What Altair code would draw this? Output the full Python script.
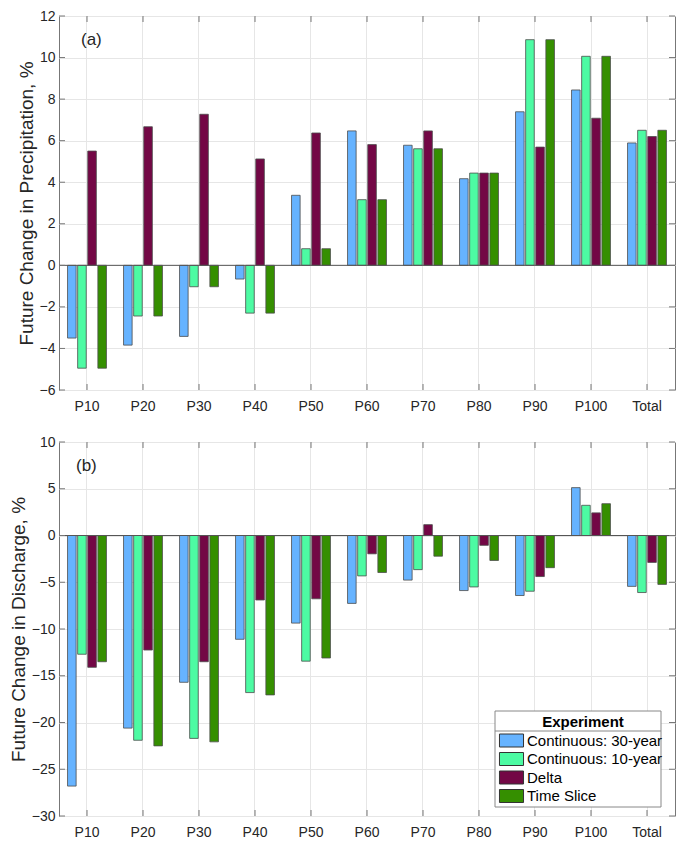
import altair as alt
import pandas as pd

categories = ["P10", "P20", "P30", "P40", "P50", "P60", "P70", "P80", "P90", "P100", "Total"]
experiments = ["Continuous: 30-year", "Continuous: 10-year", "Delta", "Time Slice"]
colors = ["#66B3FF", "#4DFBA3", "#730745", "#358F00"]

precip_cont30 = [-3.50, -3.84, -3.42, -0.66, 3.37, 6.47, 5.78, 4.17, 7.39, 8.44, 5.89]
precip_cont10 = [-4.95, -2.44, -1.03, -2.30, 0.80, 3.16, 5.61, 4.44, 10.86, 10.06, 6.50]
precip_delta = [5.50, 6.67, 7.27, 5.12, 6.37, 5.81, 6.47, 4.44, 5.69, 7.08, 6.20]
precip_slice = [-4.95, -2.44, -1.03, -2.30, 0.80, 3.16, 5.61, 4.44, 10.86, 10.06, 6.50]

disch_cont30 = [-26.8, -20.6, -15.7, -11.1, -9.37, -7.26, -4.77, -5.89, -6.42, 5.12, -5.44]
disch_cont10 = [-12.7, -21.9, -21.7, -16.8, -13.44, -4.32, -3.65, -5.50, -5.96, 3.23, -6.10]
disch_delta = [-14.1, -12.25, -13.5, -6.90, -6.77, -1.96, 1.16, -1.05, -4.39, 2.42, -2.88]
disch_slice = [-13.5, -22.5, -22.07, -17.05, -13.1, -3.96, -2.21, -2.67, -3.44, 3.40, -5.23]

precip_ticks = [-6, -4, -2, 0, 2, 4, 6, 8, 10, 12]
disch_ticks = [-30, -25, -20, -15, -10, -5, 0, 5, 10]

FONT = "Liberation Sans"
TXT = "#262626"
FRAME = "#777777"


def long_df(series_list):
    rows = []
    for exp, vals in zip(experiments, series_list):
        for c, v in zip(categories, vals):
            rows.append({"cat": c, "exp": exp, "val": v})
    return pd.DataFrame(rows)


def panel(series_list, ticks, ytitle, label, W, H, label_x, box_x):
    df = long_df(series_list)
    xscale = alt.Scale(domain=categories, paddingInner=0.305, paddingOuter=0.1525)
    yscale = alt.Scale(domain=[ticks[0], ticks[-1]], nice=False, zero=False)
    xaxis = alt.Axis(title=None, ticks=False, domain=False, grid=True,
                     gridColor="#e6e6e6", labelAngle=0, labelFontSize=14,
                     labelColor=TXT, labelPadding=9)
    yaxis = alt.Axis(values=ticks, title=ytitle, titleFontSize=19,
                     titleFontWeight="normal", titleColor=TXT, titlePadding=3,
                     ticks=False, domain=False, grid=True, gridColor="#e6e6e6",
                     labelFontSize=14, labelColor=TXT, labelPadding=4)

    def X():
        return alt.X("cat:N", sort=categories, scale=xscale, axis=xaxis)

    def Y():
        return alt.Y("val:Q", scale=yscale, axis=yaxis)

    if box_x is not None:
        legend = alt.Legend(
            orient="none", legendX=box_x + 5, legendY=269, direction="vertical",
            title="Experiment", titleFontSize=15, titleFontWeight="bold",
            titleColor="#000000", titleAnchor="middle", titlePadding=3,
            labelFontSize=15, labelColor="#000000", labelOffset=8,
            symbolType="M-1.85,-1H1.85V1H-1.85Z", symbolSize=169,
            symbolStrokeColor="#333333", symbolStrokeWidth=1, symbolOpacity=1,
            rowPadding=1.5, padding=4, labelLimit=300,
        )
    else:
        legend = None

    bars = alt.Chart(df).mark_bar(stroke="#4d4d4d", strokeWidth=0.8).encode(
        x=X(),
        xOffset=alt.XOffset("exp:N", sort=experiments,
                            scale=alt.Scale(domain=experiments, paddingInner=0.15, paddingOuter=0)),
        y=Y(),
        color=alt.Color("exp:N", sort=experiments,
                        scale=alt.Scale(domain=experiments, range=colors), legend=legend),
    )

    zero = alt.Chart(pd.DataFrame({"val": [0]})).mark_rule(color="#555555", strokeWidth=1).encode(
        y=Y()
    )

    ytick_df = pd.DataFrame({"val": ticks})
    ytl = alt.Chart(ytick_df).mark_rule(color=FRAME).encode(
        y=Y(), x=alt.value(0), x2=alt.value(6))
    ytr = alt.Chart(ytick_df).mark_rule(color=FRAME).encode(
        y=Y(), x=alt.value(W - 6), x2=alt.value(W))

    xtick_df = pd.DataFrame({"cat": categories})
    xtb = alt.Chart(xtick_df).mark_rule(color=FRAME).encode(
        x=X(), y=alt.value(H), y2=alt.value(H - 6))
    xtt = alt.Chart(xtick_df).mark_rule(color=FRAME).encode(
        x=X(), y=alt.value(0), y2=alt.value(6))

    lab = alt.Chart(pd.DataFrame({"t": [label]})).mark_text(
        align="left", baseline="middle", fontSize=17, font=FONT, color=TXT
    ).encode(text="t:N", x=alt.value(label_x), y=alt.value(24))

    layers = [bars, zero, ytl, ytr, xtb, xtt, lab]

    if box_x is not None:
        one = pd.DataFrame({"a": [0]})
        box = alt.Chart(one).mark_rect(fill="white", stroke="#888888", strokeWidth=1).encode(
            x=alt.value(box_x), x2=alt.value(box_x + 166), y=alt.value(269), y2=alt.value(365))
        sep = alt.Chart(one).mark_rule(color="#888888", strokeWidth=1).encode(
            x=alt.value(box_x), x2=alt.value(box_x + 166), y=alt.value(289))
        layers = layers + [box, sep]

    return alt.layer(*layers).properties(width=W, height=H)


top = panel([precip_cont30, precip_cont10, precip_delta, precip_slice], precip_ticks,
            "Future Change in Precipitation, %", "(a)", 616, 374, 22, None)
bottom = panel([disch_cont30, disch_cont10, disch_delta, disch_slice], disch_ticks,
               "Future Change in Discharge, %", "(b)", 616, 374, 17, 436)

chart = alt.vconcat(top, bottom, spacing=20).resolve_scale(
    color="independent", x="independent", y="independent"
).resolve_legend(color="independent").properties(
    padding={"left": 0, "top": 0, "right": 0, "bottom": 0}
).configure(font=FONT).configure_view(stroke=FRAME, strokeWidth=1)

chart.save("out.html", embed_options={"renderer": "svg", "actions": False})
